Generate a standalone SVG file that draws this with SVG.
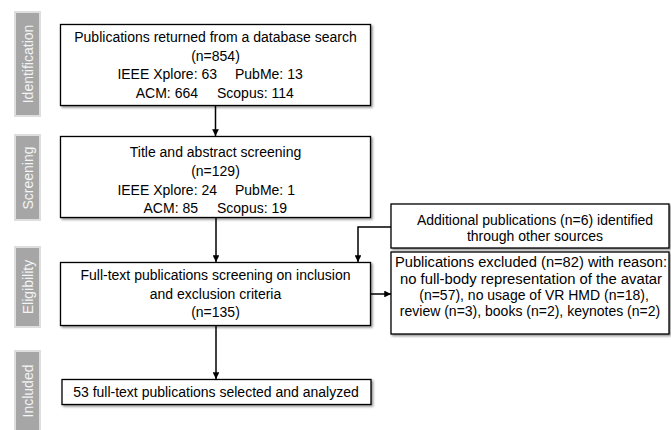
<svg xmlns="http://www.w3.org/2000/svg" width="671" height="430" viewBox="0 0 671 430">
<defs>
<style>
.box{fill:#ffffff;stroke:#000000;stroke-width:1.3;filter:url(#sh)}
.side{fill:#a6a6a6;stroke:#dedede;stroke-width:2}
.t{font-family:"Liberation Sans",Arial,sans-serif;font-size:14px;fill:#000000;text-anchor:middle}
.ts{font-family:"Liberation Sans",Arial,sans-serif;font-size:14px;fill:#f4f4f4;text-anchor:middle}
.s{text-anchor:start}
.e{text-anchor:end}
.c{fill:none;stroke:#000000;stroke-width:1.5}
</style>
<filter id="sh" x="-5%" y="-10%" width="115%" height="130%">
<feDropShadow dx="1.5" dy="1.5" stdDeviation="0.8" flood-color="#000000" flood-opacity="0.45"/>
</filter>
<marker id="ah" viewBox="0 0 10 10" refX="10" refY="5" markerWidth="4.5" markerHeight="4.5" orient="auto" markerUnits="strokeWidth">
<path d="M0,0 L10,5 L0,10 z" fill="#000000"/>
</marker>
</defs>
<rect width="671" height="430" fill="#ffffff"/>

<g id="phase-identification">
<rect class="side" x="15" y="12" width="25" height="104"/>
<text class="ts" transform="translate(32.5,64) rotate(-90)">Identification</text>
</g>
<g id="phase-screening">
<rect class="side" x="15" y="135" width="25" height="85"/>
<text class="ts" transform="translate(32.5,178) rotate(-90)">Screening</text>
</g>
<g id="phase-eligibility">
<rect class="side" x="15" y="247" width="25" height="80"/>
<text class="ts" transform="translate(32.5,287) rotate(-90)">Eligibility</text>
</g>
<g id="phase-included">
<rect class="side" x="15" y="351" width="25" height="84"/>
<text class="ts" transform="translate(32.5,391) rotate(-90)">Included</text>
</g>

<g id="connectors">
<line class="c" x1="215.5" y1="105" x2="215.5" y2="136" marker-end="url(#ah)"/>
<line class="c" x1="216" y1="217" x2="216" y2="262" marker-end="url(#ah)"/>
<line class="c" x1="216" y1="325" x2="216" y2="379" marker-end="url(#ah)"/>
<polyline class="c" points="391,227 358,227 358,262" marker-end="url(#ah)"/>
<line class="c" x1="371" y1="294" x2="391" y2="294" marker-end="url(#ah)"/>
</g>

<g id="identification">
<rect class="box" x="60.5" y="24.5" width="310" height="81"/>
<text class="t" x="215.5" y="42">Publications returned from a database search</text>
<text class="t" x="215.5" y="60.5">(n=854)</text>
<text class="t e" x="217" y="79">IEEE Xplore: 63</text>
<text class="t s" x="235" y="79">PubMe: 13</text>
<text class="t e" x="198" y="97.5">ACM: 664</text>
<text class="t s" x="217" y="97.5">Scopus: 114</text>
</g>

<g id="screening">
<rect class="box" x="60.5" y="136.5" width="310" height="81"/>
<text class="t" x="215.5" y="157">Title and abstract screening</text>
<text class="t" x="215.5" y="176">(n=129)</text>
<text class="t e" x="217" y="194.5">IEEE Xplore: 24</text>
<text class="t s" x="235" y="194.5">PubMe: 1</text>
<text class="t e" x="198" y="213">ACM: 85</text>
<text class="t s" x="217" y="213">Scopus: 19</text>
</g>

<g id="eligibility">
<rect class="box" x="60.5" y="262.5" width="310" height="63"/>
<text class="t" x="215.5" y="280">Full-text publications screening on inclusion</text>
<text class="t" x="215.5" y="298.5">and exclusion criteria</text>
<text class="t" x="215.5" y="317">(n=135)</text>
</g>

<g id="included">
<rect class="box" x="62" y="379.5" width="309" height="25"/>
<text class="t" x="216" y="397">53 full-text publications selected and analyzed</text>
</g>

<g id="additional">
<rect class="box" x="391" y="204" width="278" height="44"/>
<text class="t" x="535" y="225">Additional publications (n=6) identified</text>
<text class="t" x="535" y="241">through other sources</text>
</g>

<g id="excluded">
<rect class="box" x="391" y="252" width="278" height="82"/>
<text class="t" x="531" y="267" textLength="272" lengthAdjust="spacingAndGlyphs">Publications excluded (n=82) with reason:</text>
<text class="t" x="531" y="283.5" textLength="262" lengthAdjust="spacingAndGlyphs">no full-body representation of the avatar</text>
<text class="t" x="534" y="300">(n=57), no usage of VR HMD (n=18),</text>
<text class="t" x="530" y="316">review (n=3), books (n=2), keynotes (n=2)</text>
</g>
</svg>
